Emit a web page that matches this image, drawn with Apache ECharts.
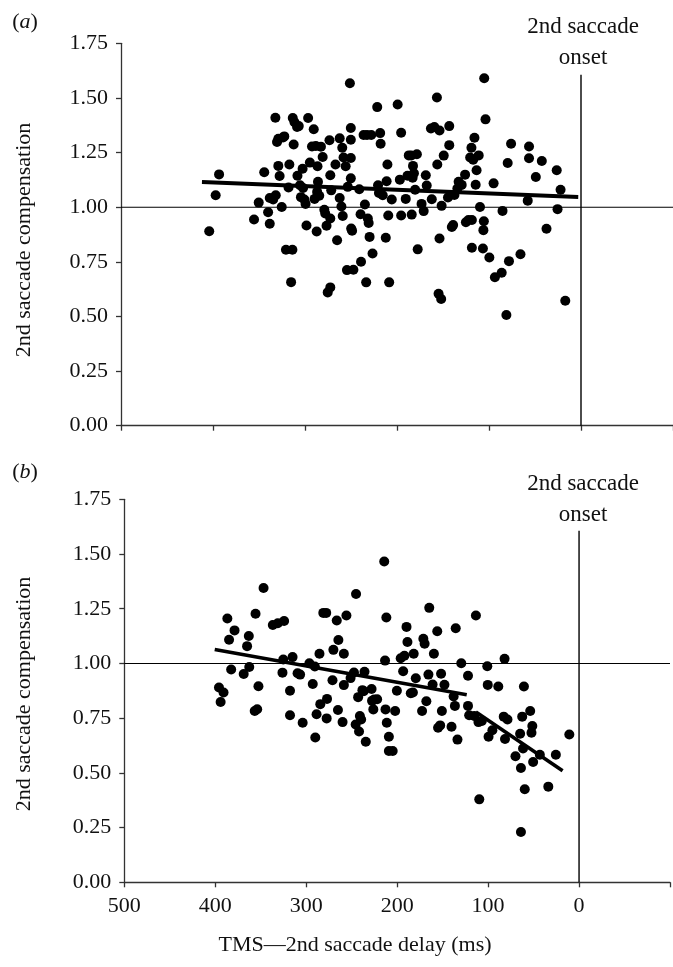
<!DOCTYPE html>
<html>
<head>
<meta charset="utf-8">
<title>2nd saccade compensation</title>
<script src="https://cdn.jsdelivr.net/npm/echarts@6/dist/echarts.min.js"></script>
<style>
  html, body { margin: 0; padding: 0; background: #fff; }
  #chart { width: 673px; height: 967px; }
</style>
</head>
<body>
<div id="chart"></div>
<script>
// (a) 每个点: [TMS—2nd saccade delay (ms), 2nd saccade compensation]
var panelA = [
  [404.1, 0.890], [397.1, 1.055], [393.4, 1.150], [355.4, 0.944], [350.3, 1.021], [344.3, 1.160],
  [340.1, 0.977], [338.3, 0.924], [338.3, 1.042], [334.6, 1.035], [332.2, 1.409], [331.8, 1.055],
  [330.4, 1.298], [329.0, 1.313], [329.0, 1.189], [327.6, 1.143], [325.3, 1.001], [323.9, 1.319],
  [322.5, 1.324], [320.7, 0.805], [317.9, 1.090], [317.0, 1.195], [315.1, 0.657], [313.7, 0.805],
  [313.3, 1.408], [312.3, 1.287], [311.4, 1.389], [308.6, 1.367], [308.2, 1.144], [306.8, 1.371],
  [305.4, 1.100], [304.4, 1.046], [302.6, 1.176], [302.1, 1.088], [300.7, 1.035], [299.4, 1.015],
  [298.4, 0.916], [296.6, 1.408], [294.7, 1.204], [292.4, 1.278], [290.5, 1.357], [289.6, 1.038],
  [288.2, 1.280], [287.3, 0.889], [286.8, 1.070], [286.4, 1.187], [285.9, 1.116], [284.5, 1.052],
  [282.7, 1.277], [280.8, 1.230], [279.0, 0.988], [278.0, 0.971], [276.6, 0.915], [275.3, 0.610],
  [273.4, 1.306], [272.5, 0.633], [272.5, 1.146], [272.5, 0.948], [271.5, 1.077], [266.9, 1.195],
  [265.1, 0.849], [262.3, 1.042], [262.3, 1.315], [260.4, 1.003], [259.5, 1.272], [259.0, 0.960],
  [258.1, 1.227], [255.8, 1.187], [254.4, 0.712], [253.5, 1.093], [251.2, 1.567], [250.2, 1.362],
  [250.2, 1.309], [250.2, 1.225], [250.2, 1.132], [249.8, 0.902], [248.8, 0.892], [247.4, 0.714],
  [241.0, 1.082], [239.6, 0.968], [239.1, 0.750], [236.3, 1.330], [234.9, 1.012], [233.5, 0.656],
  [232.6, 1.330], [231.7, 0.948], [230.8, 0.928], [229.8, 0.864], [228.0, 1.330], [226.6, 0.788],
  [221.5, 1.458], [220.6, 1.100], [219.6, 1.065], [218.3, 1.339], [217.8, 1.290], [215.5, 1.055],
  [212.2, 0.860], [211.3, 1.119], [210.4, 1.195], [209.5, 0.962], [208.5, 0.656], [205.7, 1.035],
  [199.3, 1.470], [196.9, 1.126], [195.5, 1.341], [195.5, 0.962], [190.5, 1.038], [188.6, 1.144],
  [187.2, 1.237], [184.4, 1.237], [184.0, 0.966], [183.0, 1.135], [182.6, 1.189], [181.6, 1.155],
  [180.3, 1.080], [178.4, 1.242], [177.5, 0.807], [173.3, 1.015], [171.0, 0.982], [168.7, 1.146],
  [167.7, 1.099], [163.1, 1.360], [162.2, 1.036], [159.4, 1.367], [156.6, 1.502], [156.2, 1.195],
  [154.8, 0.604], [153.8, 1.351], [153.8, 0.857], [152.0, 0.580], [151.5, 1.006], [149.2, 1.236],
  [144.6, 1.044], [143.2, 1.284], [143.2, 1.371], [140.4, 0.909], [139.0, 0.918], [137.6, 1.056],
  [134.4, 1.085], [133.0, 1.116], [129.7, 1.102], [126.0, 1.149], [125.1, 0.931], [122.3, 0.941],
  [120.5, 1.227], [119.1, 1.272], [118.6, 0.941], [118.6, 0.814], [117.2, 1.217], [115.8, 1.318],
  [114.5, 1.103], [113.5, 1.169], [111.2, 1.237], [109.8, 1.001], [106.6, 0.811], [106.1, 0.895],
  [105.6, 0.936], [105.2, 1.590], [103.8, 1.402], [99.6, 0.770], [95.0, 1.109], [93.6, 0.679],
  [86.2, 0.700], [85.3, 0.983], [81.1, 0.507], [79.7, 1.202], [78.3, 0.753], [76.0, 1.290],
  [65.8, 0.785], [57.9, 1.030], [56.5, 1.278], [56.5, 1.224], [49.1, 1.138], [42.6, 1.211],
  [37.5, 0.901], [26.4, 1.169], [25.5, 0.991], [22.2, 1.080], [17.1, 0.572]
];

// (b)
var panelB = [
  [395.9, 0.890], [394.1, 0.824], [390.9, 0.867], [386.7, 1.205], [384.8, 1.108], [382.5, 0.972],
  [378.8, 1.151], [368.7, 0.952], [365.0, 1.079], [363.1, 1.125], [362.6, 0.984], [356.6, 0.783],
  [355.7, 1.227], [353.9, 0.791], [352.5, 0.896], [346.9, 1.345], [336.7, 1.176], [331.2, 1.184],
  [326.1, 0.958], [325.2, 1.018], [324.3, 1.194], [317.8, 0.875], [317.8, 0.763], [315.0, 1.029],
  [309.5, 0.955], [306.7, 0.949], [303.9, 0.729], [296.5, 1.001], [292.8, 0.906], [290.5, 0.986],
  [290.0, 0.662], [288.6, 0.768], [285.4, 1.044], [284.5, 0.814], [281.2, 1.231], [278.0, 1.231],
  [277.5, 0.749], [277.1, 0.838], [271.1, 0.923], [270.1, 1.062], [266.4, 1.196], [265.1, 0.787],
  [264.6, 1.107], [260.0, 0.732], [258.6, 1.044], [258.6, 0.901], [255.8, 1.219], [251.2, 0.933],
  [247.5, 0.959], [245.2, 1.317], [245.6, 0.721], [242.9, 0.846], [241.9, 0.689], [241.0, 0.760],
  [239.6, 0.744], [238.2, 0.878], [236.8, 0.873], [235.9, 0.962], [234.5, 0.642], [228.1, 0.883],
  [227.6, 0.829], [226.2, 0.790], [225.3, 0.835], [222.0, 0.836], [214.2, 1.466], [213.3, 1.013],
  [212.8, 0.790], [211.9, 1.210], [211.4, 0.729], [209.1, 0.665], [209.1, 0.600], [204.9, 0.600],
  [202.2, 0.783], [200.3, 0.875], [196.1, 1.024], [193.4, 0.964], [192.0, 1.035], [189.7, 1.167],
  [188.7, 1.098], [185.0, 0.864], [182.7, 0.867], [181.8, 1.044], [179.5, 0.932], [172.6, 0.783],
  [171.2, 1.113], [169.8, 1.090], [167.9, 0.827], [165.6, 0.949], [164.7, 1.254], [161.0, 0.904],
  [159.6, 1.044], [155.9, 1.147], [155.0, 0.706], [152.7, 0.717], [151.7, 0.953], [150.8, 0.783],
  [148.0, 0.903], [140.2, 0.711], [137.9, 0.849], [136.5, 0.806], [135.6, 1.161], [133.7, 0.652],
  [129.5, 1.001], [122.1, 0.944], [122.1, 0.806], [120.8, 0.763], [115.2, 0.760], [113.4, 1.219],
  [110.6, 0.732], [109.7, 0.379], [106.9, 0.737], [100.9, 0.987], [100.4, 0.902], [99.5, 0.665],
  [95.3, 0.695], [88.8, 0.895], [82.8, 0.757], [81.9, 1.021], [81.4, 0.655], [78.7, 0.744],
  [69.9, 0.576], [64.8, 0.679], [63.9, 0.522], [63.9, 0.230], [62.5, 0.757], [61.6, 0.611],
  [60.6, 0.895], [59.7, 0.425], [53.7, 0.783], [52.3, 0.683], [51.4, 0.714], [50.5, 0.550],
  [43.1, 0.583], [33.8, 0.437], [25.5, 0.583], [10.7, 0.675]
];

// 回归线
var fitA = [[412, 1.115], [3, 1.047]];
var fitBEarly = [[400.6, 1.064], [123.5, 0.857]];
var fitBLate = [[113.4, 0.778], [18.1, 0.510]];

// 参考线：1.00 水平线，0 ms 处竖线（2nd saccade onset）
var refLevel = 1.0;
var onsetDelay = 0;
var onsetTop = 1.606;

// 坐标轴刻度
var xMin = -100, xMax = 500, xStep = 100;
var yMin = 0, yMax = 1.75, yStep = 0.25;

var font = 'Liberation Serif, Times New Roman, serif';
var ink = '#111';

function makeX(gridIndex, showLabel) {
  return {
    type: 'value',
    gridIndex: gridIndex,
    inverse: true,
    min: xMin,
    max: xMax,
    interval: xStep,
    axisLine: { onZero: false, lineStyle: { color: '#333', width: 1.3 } },
    axisTick: { show: true, inside: false, length: 5, lineStyle: { color: '#333', width: 1.3 } },
    axisLabel: {
      show: showLabel,
      margin: 13,
      fontFamily: font,
      fontSize: 22,
      color: ink,
      formatter: function (v) { return v < 0 ? '' : String(v) }
    },
    splitLine: { show: false }
  }
}

function makeY(gridIndex) {
  return {
    type: 'value',
    gridIndex: gridIndex,
    min: yMin,
    max: yMax,
    interval: yStep,
    // 不要跟着 x=0 走，轴线留在左边
    axisLine: { show: true, onZero: false, lineStyle: { color: '#333', width: 1.3 } },
    axisTick: { show: true, inside: false, length: 5, lineStyle: { color: '#333', width: 1.3 } },
    axisLabel: {
      margin: 13,
      fontFamily: font,
      fontSize: 22,
      color: ink,
      formatter: function (v) { return v.toFixed(2) }
    },
    splitLine: { show: false }
  }
}

// 细参考线，用普通折线画
function refLine(idx, data, w) {
  return {
    type: 'line',
    xAxisIndex: idx,
    yAxisIndex: idx,
    data: data,
    showSymbol: false,
    symbol: 'none',
    silent: true,
    lineStyle: { color: '#000', width: w },
    z: 1
  }
}

function dots(idx, data) {
  return {
    type: 'scatter',
    xAxisIndex: idx,
    yAxisIndex: idx,
    data: data,
    symbol: 'circle',
    symbolSize: 10,
    itemStyle: { color: '#000', opacity: 1 },
    z: 3
  }
}

function fit(idx, data, w) {
  return {
    type: 'line',
    xAxisIndex: idx,
    yAxisIndex: idx,
    data: data,
    showSymbol: false,
    symbol: 'none',
    lineStyle: { color: '#000', width: w },
    z: 4
  }
}

function label(x, y, text, size, extra) {
  var t = {
    type: 'text',
    x: x,
    y: y,
    style: {
      text: text,
      fontFamily: font,
      fontSize: size,
      fill: ink,
      textAlign: 'center',
      textVerticalAlign: 'middle',
      rich: { i: { fontStyle: 'italic', fontFamily: font, fontSize: size, fill: ink } }
    }
  }
  if (extra) Object.assign(t, extra)
  return t
}

var levelLine = [[xMax, refLevel], [xMin, refLevel]];
var onsetLine = [[onsetDelay, onsetTop], [onsetDelay, yMin]];

var chart = echarts.init(document.getElementById('chart'), null, { renderer: 'canvas' })
chart.setOption({
  animation: false,
  backgroundColor: '#fff',
  grid: [
    { left: 121, right: -4.6, top: 43.3, bottom: 541.3 },
    { left: 124.3, right: -9.3, top: 499.3, bottom: 84.7 }
  ],
  xAxis: [makeX(0, false), makeX(1, true)],
  yAxis: [makeY(0), makeY(1)],
  series: [
    refLine(0, levelLine, 1.1),
    refLine(0, onsetLine, 1.4),
    refLine(1, levelLine, 1.1),
    refLine(1, onsetLine, 1.4),
    dots(0, panelA),
    dots(1, panelB),
    fit(0, fitA, 4),
    fit(1, fitBEarly, 3.6),
    fit(1, fitBLate, 3.6)
  ],
  graphic: [
    label(25, 22, '({i|a})', 22),
    label(25, 472, '({i|b})', 22),
    label(583, 27, '2nd saccade', 23),
    label(583, 58, 'onset', 23),
    label(583, 484, '2nd saccade', 23),
    label(583, 515, 'onset', 23),
    label(24, 240, '2nd saccade compensation', 22, { rotation: Math.PI / 2 }),
    label(24, 694, '2nd saccade compensation', 22, { rotation: Math.PI / 2 }),
    label(355, 945, 'TMS\u20142nd saccade delay (ms)', 22)
  ]
})
</script>
</body>
</html>
